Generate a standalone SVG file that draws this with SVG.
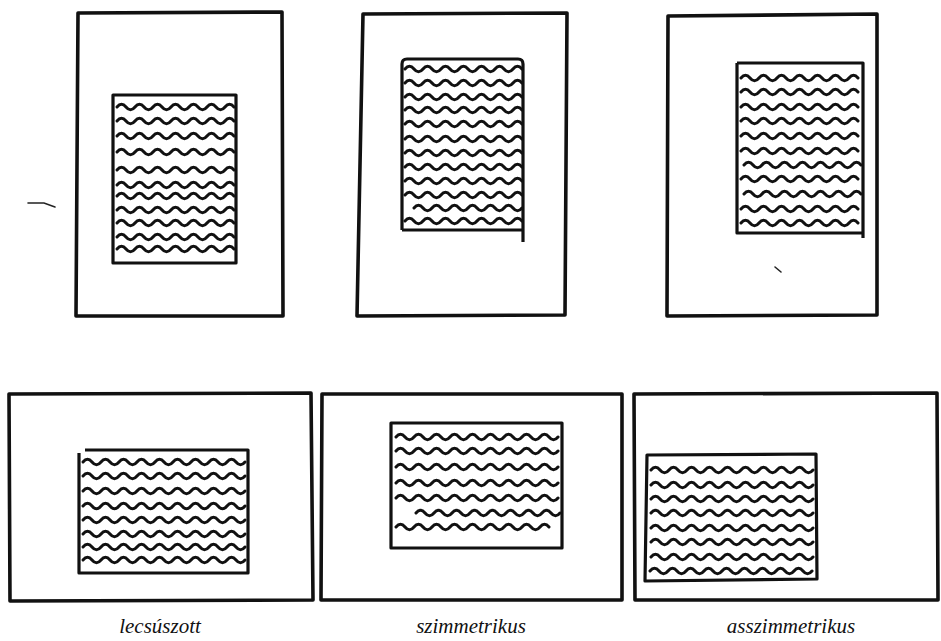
<svg xmlns="http://www.w3.org/2000/svg" xmlns:xlink="http://www.w3.org/1999/xlink" width="941" height="641" viewBox="0 0 941 641">
<style>
.frame{fill:none;stroke:#111;stroke-width:3.6;stroke-linejoin:round}
.block{fill:none;stroke:#111;stroke-width:3.2;stroke-linejoin:round}
.wave{fill:none;stroke:#111;stroke-width:3;stroke-linecap:round;stroke-linejoin:round}
.mark{fill:none;stroke:#222;stroke-width:1.6;stroke-linecap:round}
.label{font-family:"Liberation Serif","Times New Roman",serif;font-style:italic;font-size:21px;fill:#111;text-anchor:middle}
</style>
<defs>
<path id="wA" class="wave" d="M0,0 q4.5,-5.5 9,0 t9,0 9,0 9,0 9,0 9,0 9,0 9,0 9,0 9,0 9,0 9,0 9,0"/>
<path id="wB" class="wave" d="M0,0 q4.5,-5.5 9,0 t9,0 9,0 9,0 9,0 9,0 9,0 9,0 9,0 9,0 9,0 9,0 9,0 9,0 9,0 9,0 9,0 9,0"/>
<path id="wC" class="wave" d="M0,0 q4.5,-5.5 9,0 t9,0 9,0 9,0 9,0 9,0 9,0 9,0 9,0 9,0 9,0 9,0"/>
<path id="wD" class="wave" d="M0,0 q4.5,-5.5 9,0 t9,0 9,0 9,0 9,0 9,0 9,0 9,0 9,0 9,0 9,0 9,0 9,0 9,0 9,0 9,0"/>
<path id="wE" class="wave" d="M0,0 q4.5,-5.5 9,0 t9,0 9,0 9,0 9,0 9,0 9,0 9,0 9,0 9,0 9,0 9,0 9,0 9,0 9,0 9,0 9,0"/>
</defs>
<rect width="941" height="641" fill="#fff"/>

<g id="page-top-lecsuszott">
<polygon class="frame" points="78,13 282,12 283,316 76,316"/>
<rect class="block" x="113" y="95" width="123" height="168"/>
<use xlink:href="#wA" x="117" y="107"/>
<use xlink:href="#wA" x="117" y="121"/>
<use xlink:href="#wA" x="117" y="136"/>
<use xlink:href="#wA" x="117" y="152"/>
<use xlink:href="#wA" x="117" y="170"/>
<use xlink:href="#wA" x="117" y="185"/>
<use xlink:href="#wA" x="117" y="196"/>
<use xlink:href="#wA" x="117" y="210"/>
<use xlink:href="#wA" x="117" y="223"/>
<use xlink:href="#wA" x="117" y="237"/>
<use xlink:href="#wA" x="117" y="249"/>
</g>

<g id="page-top-szimmetrikus">
<polygon class="frame" points="363,14 567,13 565,315 357,316"/>
<path class="block" d="M402,230 V64 q0,-5 5,-5 H518 q5,0 5,5 V242 M402,230 H523"/>
<use xlink:href="#wA" x="405" y="69"/>
<use xlink:href="#wA" x="405" y="83"/>
<use xlink:href="#wA" x="405" y="97"/>
<use xlink:href="#wA" x="405" y="110"/>
<use xlink:href="#wA" x="405" y="124"/>
<use xlink:href="#wA" x="405" y="139"/>
<use xlink:href="#wA" x="405" y="153"/>
<use xlink:href="#wA" x="405" y="167"/>
<use xlink:href="#wA" x="405" y="181"/>
<use xlink:href="#wA" x="405" y="195"/>
<use xlink:href="#wC" x="414" y="208"/>
<use xlink:href="#wA" x="405" y="221"/>
</g>

<g id="page-top-asszimmetrikus">
<polygon class="frame" points="668,16 877,14 877,315 667,316"/>
<path class="block" d="M737,63 H863 V238 M737,63 V233 H863"/>
<use xlink:href="#wA" x="741" y="78"/>
<use xlink:href="#wA" x="741" y="92"/>
<use xlink:href="#wA" x="741" y="107"/>
<use xlink:href="#wA" x="741" y="121"/>
<use xlink:href="#wA" x="741" y="136"/>
<use xlink:href="#wA" x="741" y="151"/>
<use xlink:href="#wA" x="744" y="165"/>
<use xlink:href="#wA" x="741" y="179"/>
<use xlink:href="#wA" x="744" y="194"/>
<use xlink:href="#wA" x="741" y="209"/>
<use xlink:href="#wA" x="741" y="223"/>
<path class="mark" d="M775,267 L781,272"/>
</g>

<g id="page-bottom-lecsuszott">
<polygon class="frame" points="9,394 311,393 313,600 10,601"/>
<path class="block" d="M85,450 H248 V573 H79 V453"/>
<use xlink:href="#wB" x="83" y="462"/>
<use xlink:href="#wB" x="83" y="476"/>
<use xlink:href="#wB" x="83" y="491"/>
<use xlink:href="#wB" x="83" y="506"/>
<use xlink:href="#wB" x="83" y="520"/>
<use xlink:href="#wB" x="83" y="534"/>
<use xlink:href="#wB" x="83" y="547"/>
<use xlink:href="#wB" x="83" y="560"/>
</g>

<g id="page-bottom-szimmetrikus">
<polygon class="frame" points="322,394 622,394 622,600 321,600"/>
<rect class="block" x="391" y="423" width="171" height="125"/>
<use xlink:href="#wB" x="396" y="437"/>
<use xlink:href="#wB" x="396" y="451"/>
<use xlink:href="#wB" x="396" y="467"/>
<use xlink:href="#wB" x="396" y="483"/>
<use xlink:href="#wB" x="396" y="498"/>
<use xlink:href="#wD" x="416" y="513"/>
<use xlink:href="#wE" x="396" y="527"/>
</g>

<g id="page-bottom-asszimmetrikus">
<polygon class="frame" points="634,394 937,393 938,600 635,600"/>
<polygon class="block" points="647,455 816,454 817,579 645,581"/>
<use xlink:href="#wB" x="651" y="470"/>
<use xlink:href="#wB" x="651" y="485"/>
<use xlink:href="#wB" x="651" y="499"/>
<use xlink:href="#wB" x="651" y="513"/>
<use xlink:href="#wB" x="651" y="528"/>
<use xlink:href="#wB" x="651" y="542"/>
<use xlink:href="#wB" x="651" y="557"/>
<use xlink:href="#wB" x="650" y="571"/>
</g>

<g id="marks">
<path class="mark" d="M28,203 L44,203 L55,207"/>
</g>

<g id="labels">
<text class="label" x="160" y="633">lecsúszott</text>
<text class="label" x="471" y="633">szimmetrikus</text>
<text class="label" x="791" y="633">asszimmetrikus</text>
</g>
</svg>
